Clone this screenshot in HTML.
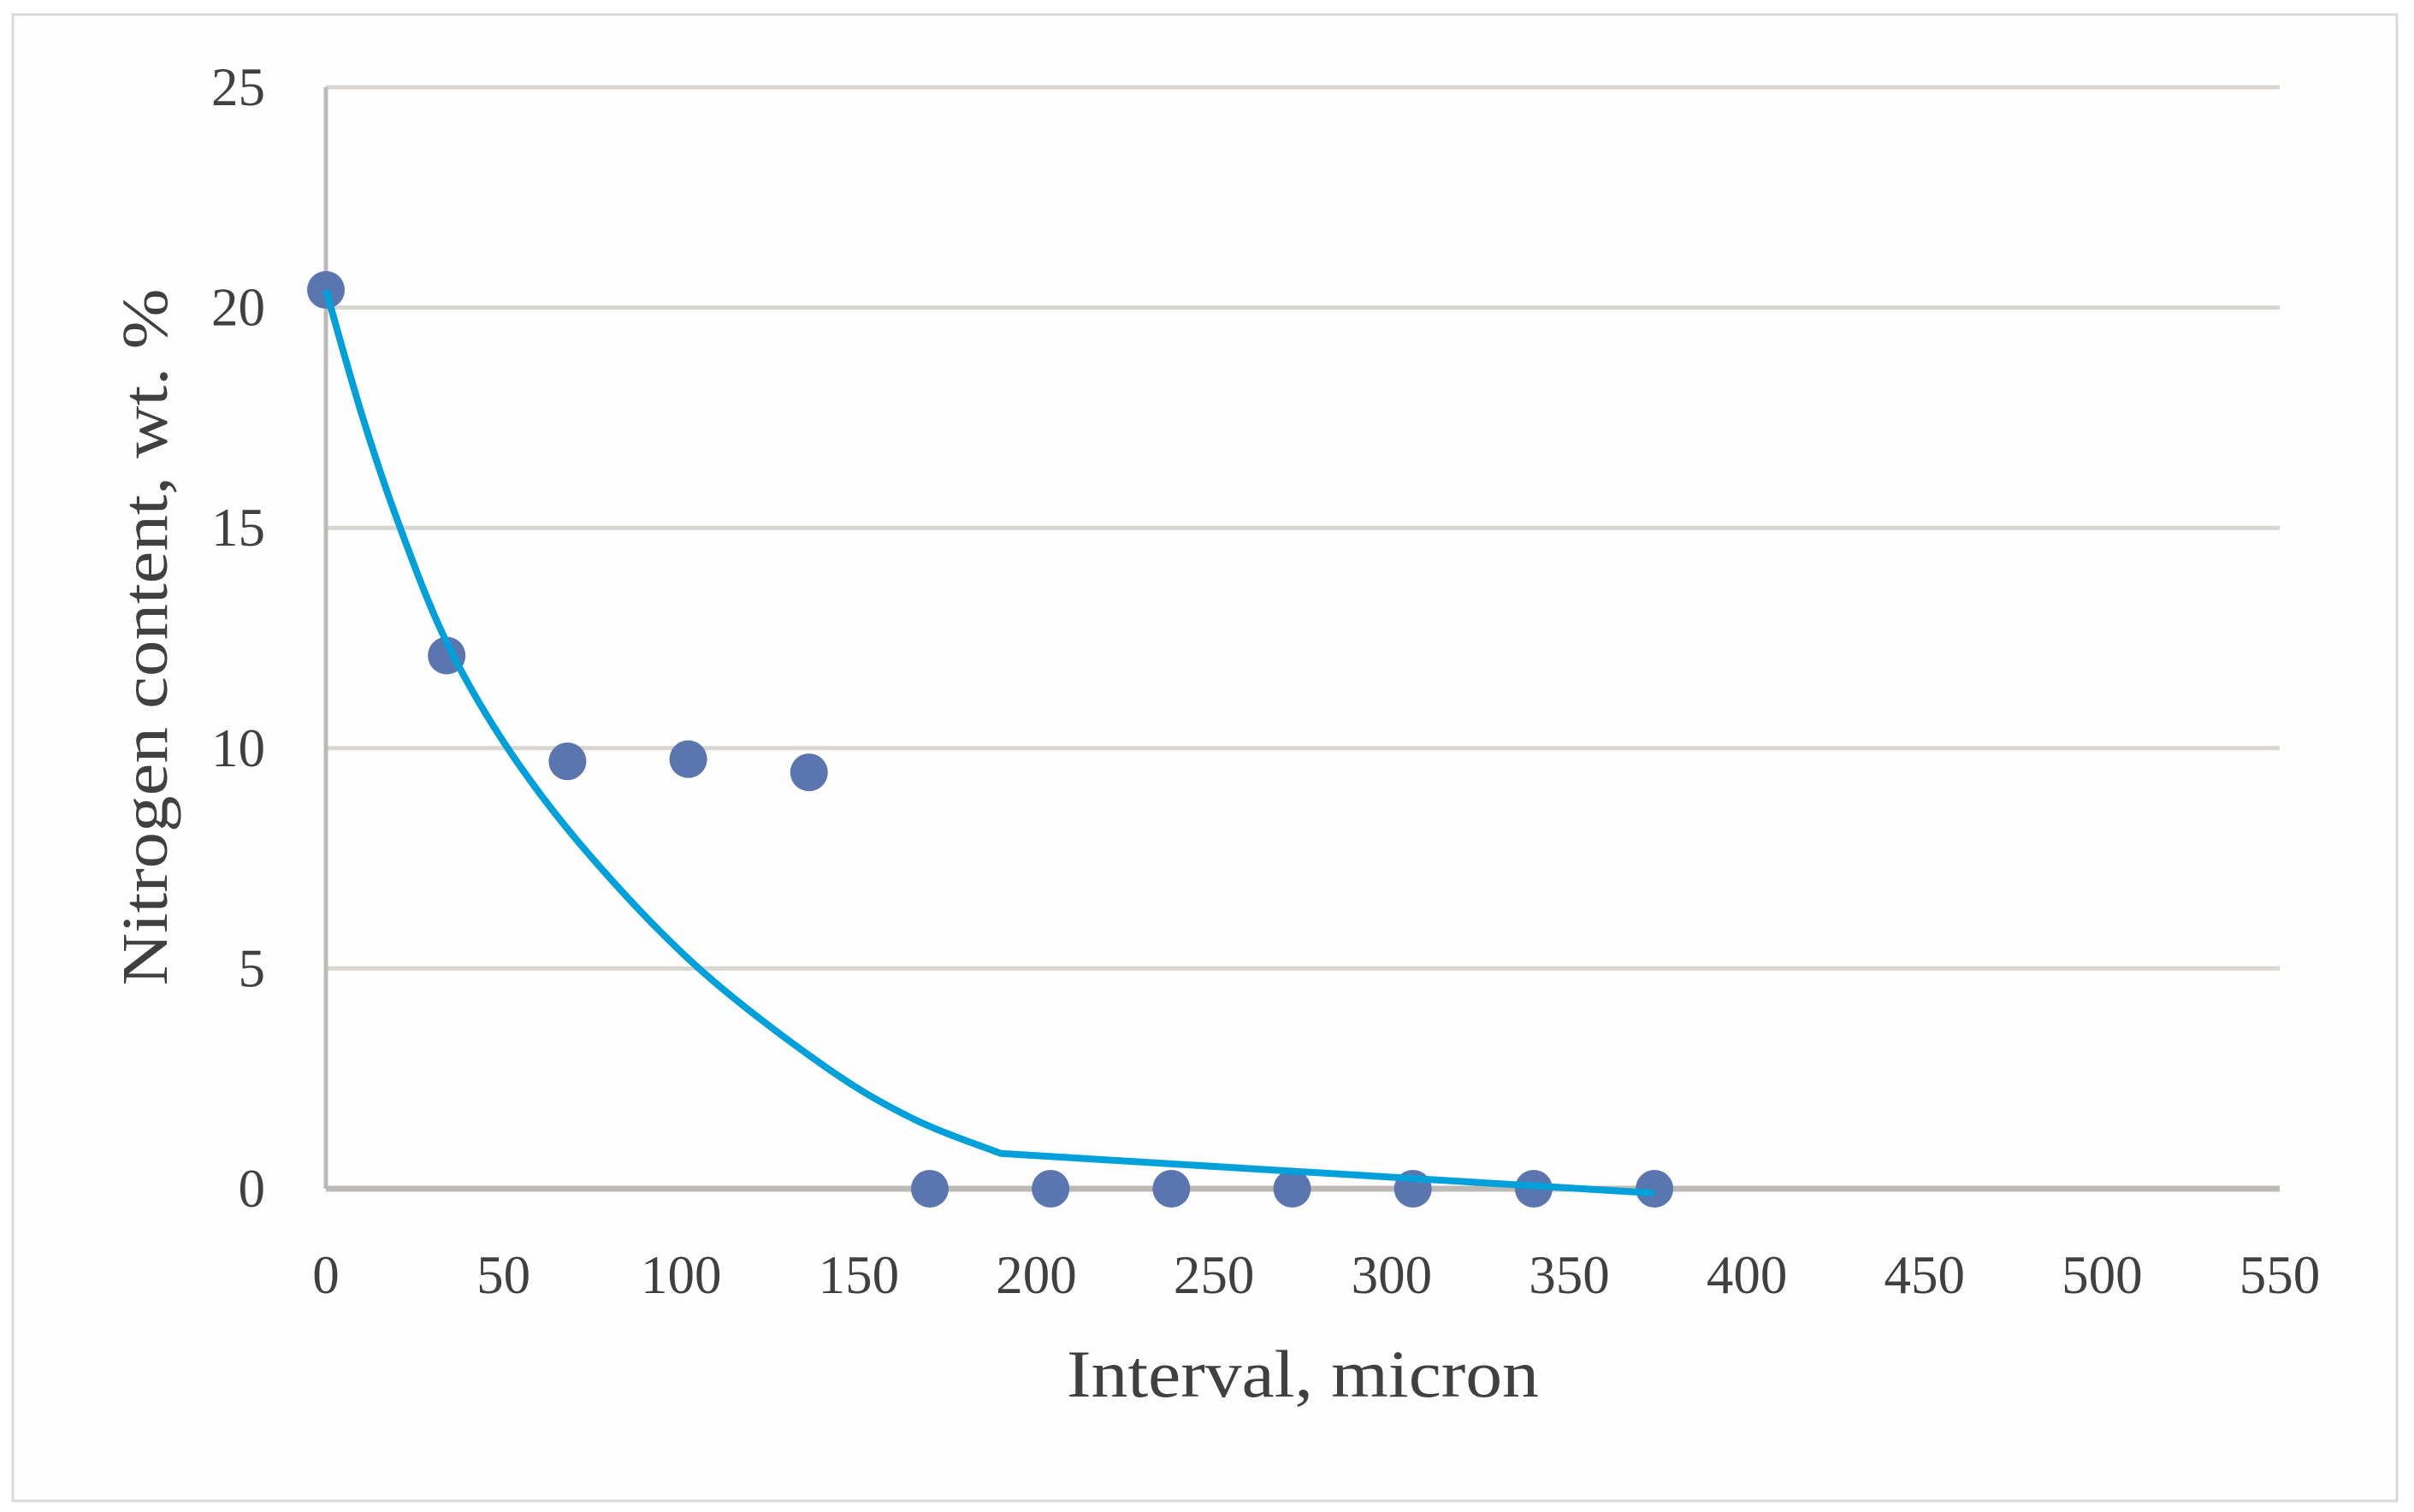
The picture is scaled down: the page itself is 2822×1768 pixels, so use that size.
<!DOCTYPE html>
<html><head><meta charset="utf-8"><style>
html,body{margin:0;padding:0;background:#fff;}
svg{display:block;}
text{font-family:"Liberation Serif",serif;fill:#404040;}
</style></head><body>
<svg id="chart" width="2822" height="1768" viewBox="0 0 2822 1768">
<rect x="15" y="17" width="2787" height="1738" fill="#fefefe" stroke="#d9d9d9" stroke-width="3"/>
<g id="grid"></g><g id="axes"></g><g id="ticks"></g><g id="series"></g>
<text x="1523" y="1633" font-size="78" text-anchor="middle" textLength="552" lengthAdjust="spacingAndGlyphs">Interval, micron</text>
<text transform="translate(195,745) rotate(-90)" font-size="76" text-anchor="middle" textLength="815" lengthAdjust="spacingAndGlyphs">Nitrogen content, wt. %</text>
</svg>
<script>
const xTicks=[0,50,100,150,200,250,300,350,400,450,500,550];
const yTicks=[0,5,10,15,20,25];
const pointX=[0,34,68,102,136,170,204,238,272,306,340,374];
const pointY=[20.4,12.1,9.7,9.75,9.45,0,0,0,0,0,0,0];
const trendX=[0,10,20,34,52,75,105,140,165,190,374];
const trendY=[20.4,17.6,15.2,12.4,9.9,7.5,5.0,2.8,1.6,0.8,-0.1];
const X0=381,X1=2665,Y0=1390,Y1=102;
const sx=v=>X0+(v-0)/550*(X1-X0);
const sy=v=>Y0-(v-0)/25*(Y0-Y1);
const NS='http://www.w3.org/2000/svg';
function mk(tag,parent,attrs){const e=document.createElementNS(NS,tag);for(const k in attrs)e.setAttribute(k,attrs[k]);document.getElementById(parent).appendChild(e);return e;}
yTicks.forEach(t=>{
  if(t>0){const g=mk('line','grid',{x1:X0,x2:X1,y1:sy(t),y2:sy(t),stroke:'#d9d5d0','stroke-width':5});
  
  }
  const l=mk('text','ticks',{x:310,y:sy(t)+21,'font-size':63,'text-anchor':'end'});l.textContent=t;
  
  
});
xTicks.forEach(t=>{
  const l=mk('text','ticks',{x:sx(t),y:1512,'font-size':63,'text-anchor':'middle'});l.textContent=t;
  
  
});
const ya=mk('line','axes',{x1:X0,x2:X0,y1:Y1,y2:Y0,stroke:'#bdb9b5','stroke-width':5});


const xa=mk('line','axes',{x1:X0,x2:X1,y1:Y0,y2:Y0,stroke:'#bdb9b5','stroke-width':7});


pointX.forEach((x,i)=>{
  const c=mk('circle','series',{cx:sx(x),cy:sy(pointY[i]),r:22,fill:'#5b76ae'});
  
  
});
const pts=trendX.map((x,i)=>[sx(x),sy(trendY[i])]);
let d='M'+pts[0][0]+','+pts[0][1];
const n=pts.length;
for(let i=0;i<n-1;i++){
  if(i===n-2){d+=' L'+pts[i+1][0]+','+pts[i+1][1];break;}
  const p0=pts[Math.max(i-1,0)],p1=pts[i],p2=pts[i+1],p3=pts[Math.min(i+2,n-2)];
  const c1=[p1[0]+(p2[0]-p0[0])/6,p1[1]+(p2[1]-p0[1])/6];
  const c2=[p2[0]-(p3[0]-p1[0])/6,p2[1]-(p3[1]-p1[1])/6];
  d+=' C'+c1[0]+','+c1[1]+' '+c2[0]+','+c2[1]+' '+p2[0]+','+p2[1];
}
const tl=mk('path','series',{d:d,fill:'none',stroke:'#00a0da','stroke-width':8,'stroke-linejoin':'round'});


</script>
</body></html>
